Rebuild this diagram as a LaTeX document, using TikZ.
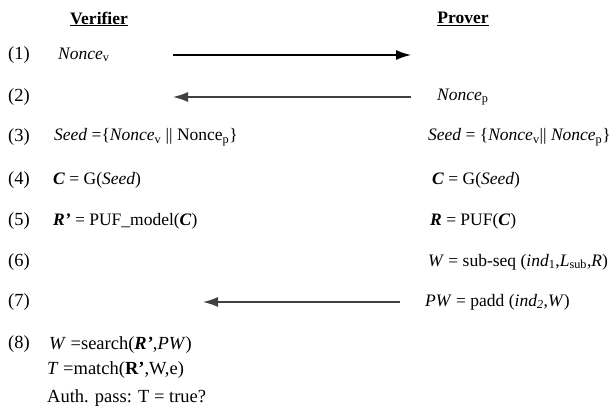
\documentclass[tikz,border=0pt]{standalone}
\usepackage{fontspec}
\setmainfont{Liberation Serif}
\usetikzlibrary{arrows.meta}
\tikzset{
  msg/.style={line width=1.4pt, -{Latex[length=15pt,width=10pt]}},
  txt/.style={anchor=west, inner sep=0pt, font=\fontsize{17.5}{21}\selectfont},
  txtbig/.style={txt, font=\fontsize{18.5}{22}\selectfont},
}
\newcommand{\noncev}{\textit{Nonce}\textsubscript{v}}
\newcommand{\bi}[1]{\textbf{\textit{#1}}}
\begin{document}
\begin{tikzpicture}[x=1pt,y=-1pt]
            \useasboundingbox (0,0) rectangle (613,412);
            \node[txt, anchor=center] (verifier) at (99,19) {\textbf{\underline{Verifier}}};
            \node[txt, anchor=center] (prover) at (463,19) {\textbf{\underline{Prover}}};
            \foreach \n/\y in {1/55,2/97,3/137,4/180,5/221,6/262,7/302,8/344}{
              \node[txtbig] (step\n) at (8,\y) {(\n)};
              }
            % verifier side
            \node[txt] (noncev) at (58,55) {\noncev};
            \node[txt] (seedv) at (54,137) {\textit{Seed} =\{\noncev{} || Nonce\textsubscript{p}\}};
            \node[txt] (cv) at (53,180) {\bi{C} = G(\textit{Seed})};
            \node[txt] (rv) at (53,221) {\bi{R’} = PUF\_model(\bi{C})};
            \node[txtbig] (searchv) at (49,345) {\textit{W} =search(\bi{R’},\textit{PW})};
            \node[txtbig] (matchv) at (47,370) {\textit{T} =match(\textbf{R’},W,e)};
            \node[txtbig] (auth) at (47,398) {Auth. pass: T = true?};
            % prover side
            \node[txt] (noncep) at (437,97) {\textit{Nonce}\textsubscript{p}};
            \node[txt] (seedp) at (428,137) {\textit{Seed} = \{\noncev|| \textit{Nonce}\textsubscript{p}\}};
            \node[txt] (cp) at (432,180) {\bi{C} = G(\textit{Seed})};
            \node[txt] (rp) at (430,221) {\bi{R} = PUF(\bi{C})};
            \node[txt] (subseq) at (428,262) {\textit{W} = sub-seq (\textit{ind}\textsubscript{1},\textit{L}\textsubscript{sub},\textit{R})};
            \node[txt] (padd) at (425,302) {\textit{PW} = padd (\textit{ind}\textsubscript{\textit{2}},\textit{W})};
            % messages
            \coordinate (m1a) at (173,55);
            \coordinate (m1b) at (411,55);
            \coordinate (m2a) at (411,97);
            \coordinate (m2b) at (173,97);
            \coordinate (m7a) at (400,302);
            \coordinate (m7b) at (203,302);
            \draw[msg] (m1a) -- (m1b);
            \draw[msg, black!75] (m2a) -- (m2b);
            \draw[msg, black!75] (m7a) -- (m7b);
          \end{tikzpicture}
\end{document}
